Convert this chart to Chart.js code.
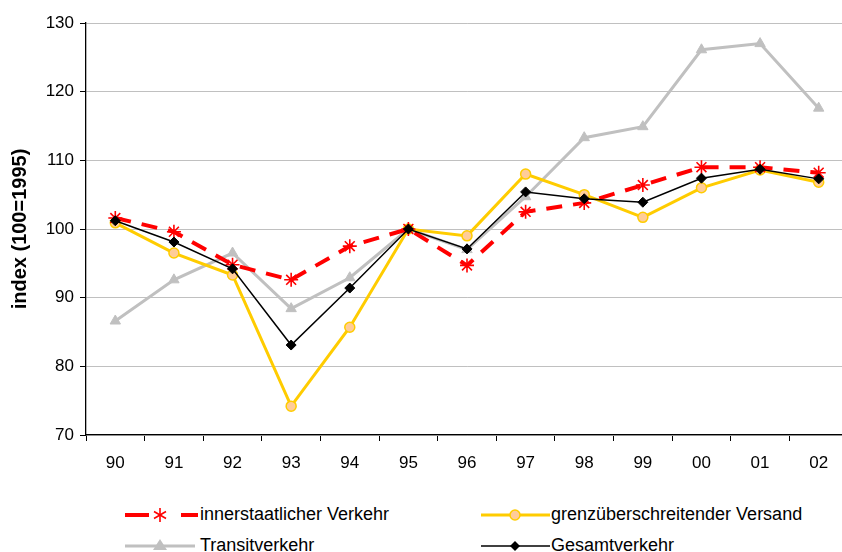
<!DOCTYPE html>
<html>
<head>
<meta charset="utf-8">
<script src="https://cdn.jsdelivr.net/npm/chart.js@4/dist/chart.umd.min.js"></script>
<style>
  html, body { margin: 0; padding: 0; background: #fff; overflow: hidden; }
  #wrap { position: relative; width: 860px; height: 552px; }
  #box { position: absolute; left: 0; top: 0; width: 860px; height: 490px; }
  .leg { position: absolute; font-family: "Liberation Sans", Arial, sans-serif; font-size: 18px; line-height: 21px; color: #000; white-space: nowrap; }
  .leg svg { position: absolute; }
</style>
</head>
<body>
<div id="wrap">
  <div id="box"><canvas id="chart"></canvas></div>

  <div class="leg" style="left:0;top:0;">
    <svg style="left:120px;top:503px" width="82" height="24">
      <line x1="5" y1="12" x2="29" y2="12" stroke="#FF0000" stroke-width="4"/>
      <line x1="61" y1="12" x2="78" y2="12" stroke="#FF0000" stroke-width="4"/>
      <g stroke="#FF0000" stroke-width="1.6">
        <line x1="40" y1="5" x2="40" y2="19"/><line x1="34" y1="8.5" x2="46" y2="15.5"/><line x1="34" y1="15.5" x2="46" y2="8.5"/>
      </g>
    </svg>
    <span style="position:absolute;left:200px;top:504px">innerstaatlicher Verkehr</span>

    <svg style="left:476px;top:503px" width="80" height="24">
      <line x1="5" y1="12" x2="74" y2="12" stroke="#FFCC00" stroke-width="3"/>
      <circle cx="39" cy="12" r="5" fill="#FFCC99" stroke="#FFCC00" stroke-width="1.5"/>
    </svg>
    <span style="position:absolute;left:551px;top:504px">grenzüberschreitender Versand</span>

    <svg style="left:120px;top:534px" width="82" height="24">
      <line x1="5" y1="12" x2="75" y2="12" stroke="#C0C0C0" stroke-width="3"/>
      <polygon points="40,5 47,16 33,16" fill="#C0C0C0"/>
    </svg>
    <span style="position:absolute;left:200px;top:535px">Transitverkehr</span>

    <svg style="left:476px;top:534px" width="80" height="24">
      <line x1="5" y1="12" x2="74" y2="12" stroke="#000" stroke-width="1.5"/>
      <polygon points="39,7 44,12 39,17 34,12" fill="#000"/>
    </svg>
    <span style="position:absolute;left:551px;top:535px">Gesamtverkehr</span>
  </div>
</div>
<script>
// jahre 1990 - 2002, index 100 = 1995
var labels = ['90','91','92','93','94','95','96','97','98','99','00','01','02'];
var innerstaatlich = [101.6, 99.6, 94.8, 92.6, 97.5, 100, 94.7, 102.5, 103.8, 106.4, 109.0, 109.0, 108.2];
var grenz = [100.9, 96.5, 93.3, 74.2, 85.7, 100, 99.0, 108.0, 105.0, 101.7, 106.0, 108.6, 106.8];
var transit = [86.6, 92.6, 96.5, 88.4, 92.9, 100, 97.0, 104.7, 113.3, 114.9, 126.1, 127.0, 117.6];
var gesamt = [101.2, 98.1, 94.2, 83.1, 91.4, 100, 97.1, 105.4, 104.4, 103.9, 107.4, 108.7, 107.3];

var font = "'Liberation Sans', Arial, sans-serif";

new Chart(document.getElementById('chart'), {
    type: 'line',
    data: {
        labels: labels,
        datasets: [
            {
                label: 'innerstaatlicher Verkehr',
                data: innerstaatlich,
                borderColor: '#FF0000',
                borderWidth: 4,
                borderDash: [16, 11],
                pointStyle: 'star',
                pointRadius: 7,
                pointBorderWidth: 1.6,
                pointBorderColor: '#FF0000',
                pointBackgroundColor: '#FF0000',
                order: 1
            },
            {
                label: 'grenzüberschreitender Versand',
                data: grenz,
                borderColor: '#FFCC00',
                borderWidth: 3,
                pointStyle: 'circle',
                pointRadius: 5,
                pointBorderWidth: 1.5,
                pointBorderColor: '#FFCC00',
                pointBackgroundColor: '#FFCC99',
                order: 2
            },
            {
                label: 'Transitverkehr',
                data: transit,
                borderColor: '#C0C0C0',
                borderWidth: 3,
                pointStyle: 'triangle',
                pointRadius: 6,
                pointBorderWidth: 1,
                pointBorderColor: '#C0C0C0',
                pointBackgroundColor: '#C0C0C0',
                order: 3
            },
            {
                label: 'Gesamtverkehr',
                data: gesamt,
                borderColor: '#000000',
                borderWidth: 1.5,
                pointStyle: 'rectRot',
                pointRadius: 5,
                pointBorderWidth: 1,
                pointBorderColor: '#000000',
                pointBackgroundColor: '#000000',
                order: 0
            }
        ]
    },
    options: {
        responsive: true,
        maintainAspectRatio: false,
        animation: false,
        layout: { padding: { top: 23, right: 12, left: 0, bottom: 0 } },
        plugins: { legend: { display: false }, tooltip: { enabled: false } },
        elements: { line: { tension: 0 } },
        scales: {
            x: {
                offset: true,
                grid: { offset: true, drawOnChartArea: false, color: '#000', tickLength: 6 },
                border: { color: '#000', width: 1.3 },
                ticks: { color: '#000', font: { family: font, size: 17 }, padding: 12, maxRotation: 0 },
                afterFit: function(scale){ scale.height = 55; }
            },
            y: {
                min: 70,
                max: 130,
                ticks: { stepSize: 10, color: '#000', font: { family: font, size: 17 }, padding: 6 },
                grid: { color: '#C0C0C0', borderDash: [8, 5], tickColor: '#000', tickBorderDash: [], tickLength: 6, lineWidth: 1 },
                border: { color: '#000', width: 1.3 },
                title: { display: true, text: 'index (100=1995)', color: '#000', font: { family: font, size: 20, weight: 'bold' }, padding: { top: 8, bottom: 0 } },
                afterFit: function(scale){ scale.width = 86; }
            }
        }
    }
});
</script>
</body>
</html>
